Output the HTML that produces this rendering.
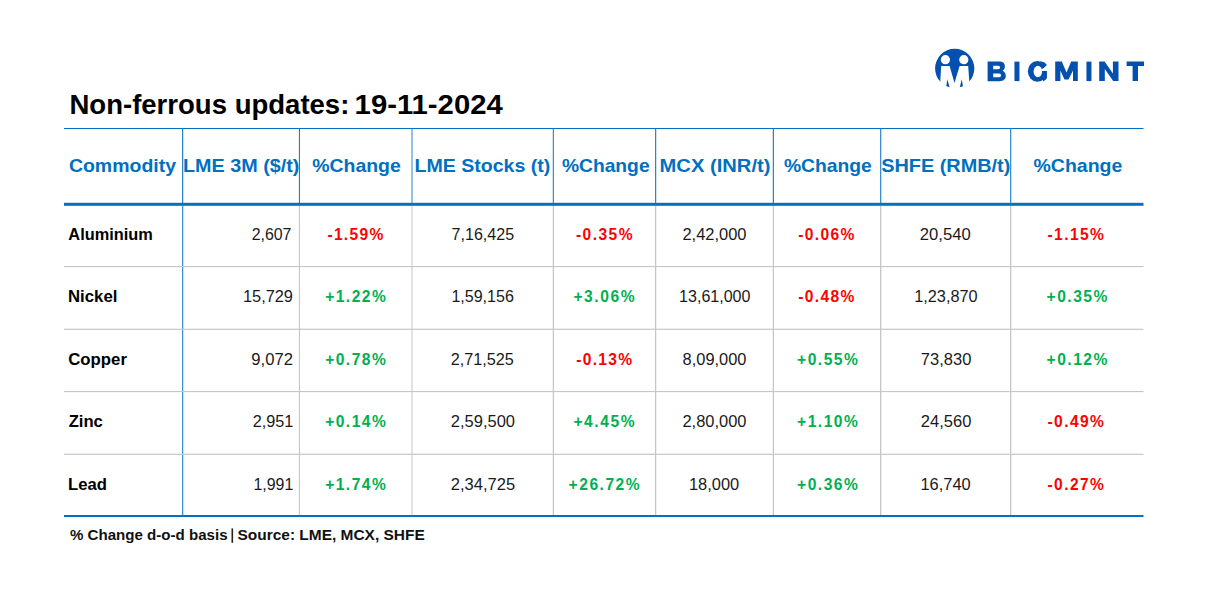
<!DOCTYPE html>
<html><head><meta charset="utf-8"><title>Non-ferrous updates</title>
<style>html,body{margin:0;padding:0;background:#fff;}svg{display:block;}text{font-family:"Liberation Sans",sans-serif;}</style>
</head><body>
<svg width="1215" height="600" viewBox="0 0 1215 600">
<rect width="1215" height="600" fill="#ffffff"/>
<rect x="64" y="128" width="1079.5" height="1" fill="#0070c0"/>
<rect x="182" y="129" width="1.25" height="74" fill="#2a86cc"/>
<rect x="182" y="206" width="1.25" height="309" fill="#3a8fd0"/>
<rect x="298.9" y="129" width="1.1" height="74" fill="#1f7dc6"/>
<rect x="298.9" y="206" width="1.1" height="309" fill="#c6c6c6"/>
<rect x="411.5" y="129" width="1" height="74" fill="#2a86cc"/>
<rect x="411.5" y="206" width="1" height="309" fill="#c6c6c6"/>
<rect x="552.75" y="129" width="1.25" height="74" fill="#3a8fd0"/>
<rect x="552.75" y="206" width="1.25" height="309" fill="#c6c6c6"/>
<rect x="655" y="129" width="1.25" height="74" fill="#2a86cc"/>
<rect x="655" y="206" width="1.25" height="309" fill="#c6c6c6"/>
<rect x="772.75" y="129" width="1.25" height="74" fill="#2a86cc"/>
<rect x="772.75" y="206" width="1.25" height="309" fill="#c6c6c6"/>
<rect x="880" y="129" width="1.3" height="74" fill="#3a8fd0"/>
<rect x="880" y="206" width="1.3" height="309" fill="#c6c6c6"/>
<rect x="1010" y="129" width="1.3" height="74" fill="#3a8fd0"/>
<rect x="1010" y="206" width="1.3" height="309" fill="#c6c6c6"/>
<rect x="64" y="266" width="1079.5" height="1.1" fill="#c6c6c6"/>
<rect x="64" y="328.7" width="1079.5" height="1.2" fill="#c6c6c6"/>
<rect x="64" y="391" width="1079.5" height="1.1" fill="#c6c6c6"/>
<rect x="64" y="453.7" width="1079.5" height="1.2" fill="#c6c6c6"/>
<rect x="64" y="202.8" width="1079.5" height="3" fill="#0070c0"/>
<rect x="64" y="515" width="1079.5" height="2" fill="#0070c0"/>
<rect x="231.5" y="528.4" width="1.6" height="14.4" fill="#222222"/>
<g fill="#0450ae"><circle cx="954.7" cy="68.4" r="19.6"/></g>
<g fill="#ffffff">
<circle cx="945.4" cy="59.7" r="4.6"/><circle cx="963.8" cy="59.7" r="4.6"/>
<path d="M941.2,66 L949.6,66 L954.5,83 L959.6,66 L968.2,66 L970,92 L963.9,92 L961.8,79.3 L958.6,92 L951,92 L947.3,79.3 L945.4,92 L939.6,92 Z"/>
</g>
<text x="69.46" y="113.75" font-size="28" font-weight="700" fill="#000000" textLength="279.90" lengthAdjust="spacingAndGlyphs">Non-ferrous updates:</text>
<text x="354.64" y="113.75" font-size="28" font-weight="700" fill="#000000" textLength="148.09" lengthAdjust="spacingAndGlyphs">19-11-2024</text>
<text x="68.92" y="171.8" font-size="18.5" font-weight="700" fill="#0070c0" textLength="107.10" lengthAdjust="spacingAndGlyphs">Commodity</text>
<text x="183.01" y="171.8" font-size="18.5" font-weight="700" fill="#0070c0" textLength="116.43" lengthAdjust="spacingAndGlyphs">LME 3M ($/t)</text>
<text x="312.31" y="171.8" font-size="18.5" font-weight="700" fill="#0070c0" textLength="88.49" lengthAdjust="spacingAndGlyphs">%Change</text>
<text x="414.43" y="171.8" font-size="18.5" font-weight="700" fill="#0070c0" textLength="135.91" lengthAdjust="spacingAndGlyphs">LME Stocks (t)</text>
<text x="561.92" y="171.8" font-size="18.5" font-weight="700" fill="#0070c0" textLength="87.68" lengthAdjust="spacingAndGlyphs">%Change</text>
<text x="659.59" y="171.8" font-size="18.5" font-weight="700" fill="#0070c0" textLength="110.88" lengthAdjust="spacingAndGlyphs">MCX (INR/t)</text>
<text x="783.91" y="171.8" font-size="18.5" font-weight="700" fill="#0070c0" textLength="87.89" lengthAdjust="spacingAndGlyphs">%Change</text>
<text x="881.20" y="171.8" font-size="18.5" font-weight="700" fill="#0070c0" textLength="129.15" lengthAdjust="spacingAndGlyphs">SHFE (RMB/t)</text>
<text x="1033.51" y="171.8" font-size="18.5" font-weight="700" fill="#0070c0" textLength="88.80" lengthAdjust="spacingAndGlyphs">%Change</text>
<text x="68.37" y="239.7" font-size="16.5" font-weight="700" fill="#000000" textLength="84.49" lengthAdjust="spacingAndGlyphs">Aluminium</text>
<text x="251.71" y="239.7" font-size="16" font-weight="400" fill="#1a1a1a" textLength="39.73" lengthAdjust="spacingAndGlyphs">2,607</text>
<text x="327.45" y="239.7" font-size="15.6" font-weight="700" fill="#ff0000" letter-spacing="1.279">-1.59%</text>
<text x="451.60" y="239.7" font-size="16" font-weight="400" fill="#1a1a1a" textLength="62.46" lengthAdjust="spacingAndGlyphs">7,16,425</text>
<text x="575.95" y="239.7" font-size="15.6" font-weight="700" fill="#ff0000" letter-spacing="1.439">-0.35%</text>
<text x="682.48" y="239.7" font-size="16" font-weight="400" fill="#1a1a1a" textLength="64.02" lengthAdjust="spacingAndGlyphs">2,42,000</text>
<text x="798.15" y="239.7" font-size="15.6" font-weight="700" fill="#ff0000" letter-spacing="1.359">-0.06%</text>
<text x="919.87" y="239.7" font-size="16" font-weight="400" fill="#1a1a1a" textLength="50.83" lengthAdjust="spacingAndGlyphs">20,540</text>
<text x="1047.55" y="239.7" font-size="15.6" font-weight="700" fill="#ff0000" letter-spacing="1.379">-1.15%</text>
<text x="68.01" y="302.0" font-size="16.5" font-weight="700" fill="#000000" textLength="49.43" lengthAdjust="spacingAndGlyphs">Nickel</text>
<text x="242.97" y="302.0" font-size="16" font-weight="400" fill="#1a1a1a" textLength="49.98" lengthAdjust="spacingAndGlyphs">15,729</text>
<text x="325.18" y="302.0" font-size="15.6" font-weight="700" fill="#00b050" letter-spacing="1.452">+1.22%</text>
<text x="451.40" y="302.0" font-size="16" font-weight="400" fill="#1a1a1a" textLength="62.46" lengthAdjust="spacingAndGlyphs">1,59,156</text>
<text x="573.38" y="302.0" font-size="15.6" font-weight="700" fill="#00b050" letter-spacing="1.592">+3.06%</text>
<text x="679.10" y="302.0" font-size="16" font-weight="400" fill="#1a1a1a" textLength="71.38" lengthAdjust="spacingAndGlyphs">13,61,000</text>
<text x="798.15" y="302.0" font-size="15.6" font-weight="700" fill="#ff0000" letter-spacing="1.359">-0.48%</text>
<text x="914.18" y="302.0" font-size="16" font-weight="400" fill="#1a1a1a" textLength="63.41" lengthAdjust="spacingAndGlyphs">1,23,870</text>
<text x="1046.58" y="302.0" font-size="15.6" font-weight="700" fill="#00b050" letter-spacing="1.492">+0.35%</text>
<text x="68.23" y="364.6" font-size="16.5" font-weight="700" fill="#000000" textLength="58.71" lengthAdjust="spacingAndGlyphs">Copper</text>
<text x="251.35" y="364.6" font-size="16" font-weight="400" fill="#1a1a1a" textLength="41.62" lengthAdjust="spacingAndGlyphs">9,072</text>
<text x="325.18" y="364.6" font-size="15.6" font-weight="700" fill="#00b050" letter-spacing="1.452">+0.78%</text>
<text x="450.79" y="364.6" font-size="16" font-weight="400" fill="#1a1a1a" textLength="63.08" lengthAdjust="spacingAndGlyphs">2,71,525</text>
<text x="576.15" y="364.6" font-size="15.6" font-weight="700" fill="#ff0000" letter-spacing="1.319">-0.13%</text>
<text x="682.64" y="364.6" font-size="16" font-weight="400" fill="#1a1a1a" textLength="63.85" lengthAdjust="spacingAndGlyphs">8,09,000</text>
<text x="797.08" y="364.6" font-size="15.6" font-weight="700" fill="#00b050" letter-spacing="1.492">+0.55%</text>
<text x="920.88" y="364.6" font-size="16" font-weight="400" fill="#1a1a1a" textLength="50.42" lengthAdjust="spacingAndGlyphs">73,830</text>
<text x="1046.58" y="364.6" font-size="15.6" font-weight="700" fill="#00b050" letter-spacing="1.492">+0.12%</text>
<text x="68.68" y="427.3" font-size="16.5" font-weight="700" fill="#000000" textLength="34.15" lengthAdjust="spacingAndGlyphs">Zinc</text>
<text x="252.69" y="427.3" font-size="16" font-weight="400" fill="#1a1a1a" textLength="40.66" lengthAdjust="spacingAndGlyphs">2,951</text>
<text x="325.18" y="427.3" font-size="15.6" font-weight="700" fill="#00b050" letter-spacing="1.452">+0.14%</text>
<text x="450.78" y="427.3" font-size="16" font-weight="400" fill="#1a1a1a" textLength="64.22" lengthAdjust="spacingAndGlyphs">2,59,500</text>
<text x="573.38" y="427.3" font-size="15.6" font-weight="700" fill="#00b050" letter-spacing="1.592">+4.45%</text>
<text x="682.48" y="427.3" font-size="16" font-weight="400" fill="#1a1a1a" textLength="64.02" lengthAdjust="spacingAndGlyphs">2,80,000</text>
<text x="797.08" y="427.3" font-size="15.6" font-weight="700" fill="#00b050" letter-spacing="1.492">+1.10%</text>
<text x="920.88" y="427.3" font-size="16" font-weight="400" fill="#1a1a1a" textLength="50.42" lengthAdjust="spacingAndGlyphs">24,560</text>
<text x="1047.55" y="427.3" font-size="15.6" font-weight="700" fill="#ff0000" letter-spacing="1.379">-0.49%</text>
<text x="68.02" y="489.5" font-size="16.5" font-weight="700" fill="#000000" textLength="38.88" lengthAdjust="spacingAndGlyphs">Lead</text>
<text x="253.51" y="489.5" font-size="16" font-weight="400" fill="#1a1a1a" textLength="39.83" lengthAdjust="spacingAndGlyphs">1,991</text>
<text x="325.18" y="489.5" font-size="15.6" font-weight="700" fill="#00b050" letter-spacing="1.452">+1.74%</text>
<text x="450.77" y="489.5" font-size="16" font-weight="400" fill="#1a1a1a" textLength="64.31" lengthAdjust="spacingAndGlyphs">2,34,725</text>
<text x="568.58" y="489.5" font-size="15.6" font-weight="700" fill="#00b050" letter-spacing="1.514">+26.72%</text>
<text x="688.97" y="489.5" font-size="16" font-weight="400" fill="#1a1a1a" textLength="50.23" lengthAdjust="spacingAndGlyphs">18,000</text>
<text x="797.08" y="489.5" font-size="15.6" font-weight="700" fill="#00b050" letter-spacing="1.492">+0.36%</text>
<text x="920.47" y="489.5" font-size="16" font-weight="400" fill="#1a1a1a" textLength="50.23" lengthAdjust="spacingAndGlyphs">16,740</text>
<text x="1047.55" y="489.5" font-size="15.6" font-weight="700" fill="#ff0000" letter-spacing="1.379">-0.27%</text>
<text x="69.95" y="539.6" font-size="15" font-weight="700" fill="#111111" textLength="157.60" lengthAdjust="spacingAndGlyphs">% Change d-o-d basis</text>
<text x="237.51" y="539.6" font-size="15" font-weight="700" fill="#111111" textLength="187.26" lengthAdjust="spacingAndGlyphs">Source: LME, MCX, SHFE</text>
<g fill="#0450ae">
<path fill-rule="evenodd" d="M987.6,61.6 L999.5,61.6 C1003,61.6 1004.9,63.6 1004.9,66.2 C1004.9,68.2 1004,69.8 1002.4,70.8 C1004.6,71.6 1005.8,73.5 1005.8,76 C1005.8,79.3 1003.4,81.2 999.3,81.2 L987.6,81.2 Z M993.2,65.8 L998.2,65.8 C999.4,65.8 1000,66.5 1000,67.55 C1000,68.6 999.4,69.3 998.2,69.3 L993.2,69.3 Z M993.2,73.6 L999,73.6 C1000.3,73.6 1001,74.3 1001,75.4 C1001,76.5 1000.3,77.2 999,77.2 L993.2,77.2 Z"/>
<rect x="1014.45" y="61.6" width="5" height="19.5"/>
<ellipse cx="1037.4" cy="71.3" rx="9.55" ry="10.4"/>
<ellipse cx="1037.9" cy="71.5" rx="4.3" ry="5.8" fill="#fff"/>
<path d="M1048.8,63.0 L1041.7,69.6 L1041.7,71.1 L1049,71.1 Z" fill="#fff"/>
<path d="M1040.5,61.2 L1044.6,62.6 L1046.9,64.9 L1043.4,68.3 L1041.2,66.4 Z"/>
<path d="M1042.1,71.1 L1046.95,71.1 L1046.95,77.6 C1046.6,79.2 1045.2,80.6 1043.3,81.2 L1041.5,78 Z"/>
<path d="M1055.2,61.6 L1061.8,61.6 L1066.5,72.6 L1071.2,61.6 L1077.8,61.6 L1077.8,81 L1073,81 L1073,70.5 L1068.5,79.6 L1064.5,79.6 L1060.4,70.5 L1060.4,81 L1055.2,81 Z"/>
<rect x="1086.45" y="61.6" width="5" height="19.5"/>
<path d="M1099.2,61.6 L1104.6,61.6 L1112.9,73.5 L1112.9,61.6 L1118.5,61.6 L1118.5,81 L1113.2,81 L1104.8,69 L1104.8,81 L1099.2,81 Z"/>
<path d="M1126.6,61.6 L1144,61.6 L1144,66.1 L1138,66.1 L1138,81 L1132.6,81 L1132.6,66.1 L1126.6,66.1 Z"/>
</g>
</svg>
</body></html>
